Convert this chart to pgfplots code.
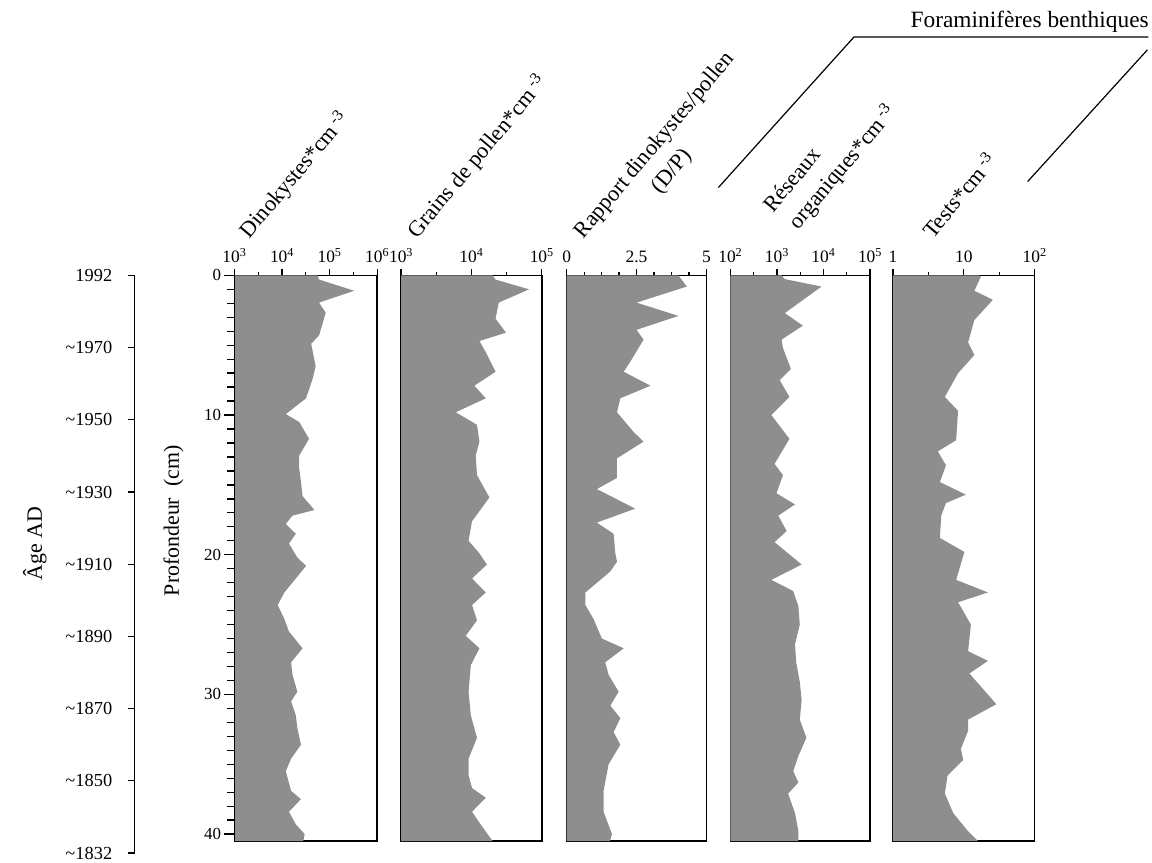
\documentclass[border=0pt]{standalone}
\usepackage{fontspec}
\setmainfont{Liberation Serif}
\usepackage{pgfplots}
\usepackage{pgfplotstable}
\pgfplotsset{compat=1.18}

\definecolor{stipple}{RGB}{142,142,142}
\newcommand{\sz}[1]{\fontsize{#1}{#1}\selectfont}
\newcommand{\cmm}{cm\,\textsuperscript{-3}}

% depth (cm) against concentration, one table per curve
\pgfplotstableread{
v d
1000 0
5.6e4 0
6.0e4 0.3
3.3e5 1.1
6.0e4 1.95
8.3e4 2.67
6.0e4 4.3
4.1e4 4.9
5.1e4 6.5
4.4e4 7.4
3.2e4 8.8
1.2e4 9.93
2.3e4 10.5
3.7e4 11.7
2.3e4 12.9
2.3e4 13.8
2.5e4 14.8
2.7e4 15.8
4.8e4 16.8
1.66e4 17.2
1.2e4 17.8
1.95e4 18.5
1.4e4 19.2
2.1e4 20.2
3.2e4 20.8
1.95e4 21.7
1.12e4 22.7
8.1e3 23.6
1.12e4 24.6
1.4e4 25.5
2.7e4 26.7
1.55e4 27.7
1.66e4 28.6
2.1e4 29.8
1.55e4 30.5
1.95e4 31.5
2.1e4 32.4
2.5e4 33.6
1.55e4 34.6
1.2e4 35.5
1.55e4 36.9
2.5e4 37.5
1.4e4 38.4
1.95e4 39.3
3.0e4 40.0
2.8e4 40.5
1000 40.5
}\dino

\pgfplotstableread{
v d
1000 0
2.0e4 0
2.2e4 0.3
6.6e4 1.0
2.45e4 1.95
2.2e4 3.1
3.1e4 4.1
1.3e4 4.7
1.6e4 5.5
2.2e4 6.9
1.1e4 7.9
1.6e4 8.8
6.0e3 9.8
1.2e4 10.7
1.3e4 11.9
1.15e4 12.9
1.2e4 14.3
1.8e4 15.9
1.02e4 17.6
9.1e3 19.0
1.3e4 19.9
1.66e4 20.7
1.02e4 21.7
1.6e4 22.7
1.02e4 23.6
1.2e4 24.7
8.3e3 25.8
1.3e4 26.7
9.8e3 27.9
9.1e3 29.8
9.8e3 31.5
1.2e4 33.1
9.1e3 34.6
9.1e3 35.8
1.02e4 36.7
1.6e4 37.4
1.02e4 38.4
1.35e4 39.3
2.0e4 40.5
1000 40.5
}\pollen

\pgfplotstableread{
v d
0 0
4.0 0
4.3 0.8
2.5 1.95
4.0 2.9
2.5 3.9
2.75 4.6
2.27 6.2
2.04 6.9
3.0 7.9
1.92 8.8
1.8 9.8
2.39 11.2
2.75 11.9
1.8 13.1
1.8 14.5
1.08 15.3
2.45 16.7
1.08 17.7
1.68 18.5
1.74 19.9
1.8 20.5
1.56 21.2
0.67 22.7
0.67 23.6
0.96 24.6
1.26 26.0
2.04 26.7
1.38 27.7
1.5 28.6
1.86 29.8
1.56 30.8
1.92 31.7
1.68 32.7
1.92 33.6
1.5 35.0
1.32 36.9
1.32 38.4
1.62 40.0
1.55 40.5
0 40.5
}\ratio

\pgfplotstableread{
v d
100 0
1.26e3 0
1.48e3 0.27
9.1e3 0.8
1.48e3 2.7
3.6e3 3.6
1.26e3 4.6
1.35e3 5.2
2.0e3 6.7
1.15e3 7.5
1.86e3 8.7
760 10.0
1.86e3 11.7
890 13.5
1.35e3 14.3
980 15.6
2.45e3 16.4
1.07e3 17.2
1.62e3 18.3
890 19.1
3.4e3 20.7
760 21.8
2.24e3 22.6
2.9e3 23.7
3.1e3 25.0
2.45e3 26.4
2.6e3 27.7
3.1e3 29.1
3.4e3 30.4
3.1e3 31.8
4.3e3 33.1
2.9e3 34.4
2.24e3 35.5
2.9e3 36.3
1.74e3 37.1
2.45e3 38.5
2.9e3 39.8
2.9e3 40.5
100 40.5
}\reseaux

\pgfplotstableread{
v d
1 0
16.6 0
17.4 0.1
14.1 1.1
25.7 1.75
14.1 3.2
11.5 4.8
14.1 5.7
8.3 7.0
5.4 8.7
8.3 9.7
7.8 11.8
4.3 12.6
5.6 13.6
4.6 14.8
10.7 15.7
5.6 16.3
4.8 17.2
4.6 18.8
10.2 19.8
7.8 21.8
21.9 22.7
8.3 23.4
12.6 25.0
11.5 26.9
21.9 27.6
12.0 28.5
28.8 30.7
11.5 31.8
11.5 32.6
9.1 33.9
9.8 34.7
5.9 35.8
5.4 37.1
7.1 38.5
11.5 39.8
15.8 40.5
1 40.5
}\tests

\pgfplotsset{
  panel/.style={
    scale only axis, height=567bp, anchor=north west,
    y dir=reverse, ymin=0, ymax=40.5, ytick=\empty,
    axis line style={line width=1.5bp},
    tick style={black, line width=1.2bp},
    tick align=outside, major tick length=6bp, minor tick length=3.5bp,
    xtick pos=upper, xticklabel pos=upper,
    xticklabel style={font=\sz{17.5}, inner sep=1.5bp, yshift=5bp},
  },
}

\begin{document}
\begin{tikzpicture}
\path (0bp,0bp) rectangle (1152bp,862bp);

% age scale
\begin{axis}[scale only axis, width=10bp, height=579bp, at={(135bp,586bp)}, anchor=north west,
  axis x line=none, axis y line*=left, axis line style={-, line width=1.5bp},
  xmin=0, xmax=1, ymin=0, ymax=8, y dir=reverse, ytick={0,1,2,3,4,5,6,7,8},
  yticklabels={1992,\textasciitilde1970,\textasciitilde1950,\textasciitilde1930,\textasciitilde1910,\textasciitilde1890,\textasciitilde1870,\textasciitilde1850,\textasciitilde1832},
  tick style={black, line width=1.2bp}, tick align=outside, major tick length=7bp,
  yticklabel style={font=\sz{18.5}, xshift=-12bp}]
\addplot[draw=none] coordinates {(0,0) (1,8)};
\end{axis}

% Dinokystes
\begin{axis}[panel, width=143bp, at={(235bp,586bp)}, xmode=log, xmin=1e3, xmax=1e6,
  xtick={1e3,1e4,1e5,1e6}, xticklabels={10\textsuperscript{3},10\textsuperscript{4},10\textsuperscript{5},10\textsuperscript{6}},
  minor xtick={3162.3,31623,316228}]
\addplot[fill=stipple, draw=none] table[x=v, y=d] {\dino};
\end{axis}
% depth scale
\begin{axis}[scale only axis, width=143bp, height=567bp, at={(235bp,586bp)}, anchor=north west,
  axis x line=none, axis y line*=left, axis line style={-, line width=1.5bp},
  xmin=0, xmax=1, ymin=0, ymax=40.5, y dir=reverse,
  ytick={0,10,20,30,40}, yticklabels={0,10,20,30,40},
  minor ytick={1,2,3,4,5,6,7,8,9,11,12,13,14,15,16,17,18,19,21,22,23,24,25,26,27,28,29,31,32,33,34,35,36,37,38,39},
  tick style={black, line width=1.3bp}, tick align=outside, major tick length=10bp, minor tick length=7bp,
  yticklabel style={font=\sz{17}}]
\addplot[draw=none] coordinates {(0,0) (1,40.5)};
\end{axis}

% Pollen
\begin{axis}[panel, width=141bp, at={(402bp,586bp)}, xmode=log, xmin=1e3, xmax=1e5,
  xtick={1e3,1e4,1e5}, xticklabels={10\textsuperscript{3},10\textsuperscript{4},10\textsuperscript{5}},
  minor xtick={3162.3,31623}]
\addplot[fill=stipple, draw=none] table[x=v, y=d] {\pollen};
\end{axis}

% D/P ratio
\begin{axis}[panel, width=140bp, at={(568bp,586bp)}, xmin=0, xmax=5,
  xtick={0,2.5,5}, xticklabels={0,2.5,5},
  minor xtick={0.625,1.25,1.875,3.125,3.75,4.375}]
\addplot[fill=stipple, draw=none] table[x=v, y=d] {\ratio};
\end{axis}

% Reseaux organiques
\begin{axis}[panel, width=140bp, at={(732bp,586bp)}, xmode=log, xmin=1e2, xmax=1e5,
  xtick={1e2,1e3,1e4,1e5}, xticklabels={10\textsuperscript{2},10\textsuperscript{3},10\textsuperscript{4},10\textsuperscript{5}},
  minor xtick={316.23,3162.3,31623}]
\addplot[fill=stipple, draw=none] table[x=v, y=d] {\reseaux};
\end{axis}

% Tests: decades drawn on a linear scale of log10(count)
\begin{axis}[panel, width=142bp, at={(895bp,586bp)}, xmin=0, xmax=2,
  xtick={0,1,2}, xticklabels={1,10,10\textsuperscript{2}},
  minor xtick={0.5,1.5}]
\addplot[fill=stipple, draw=none, x filter/.expression={log10(x)}] table[x=v, y=d] {\tests};
\end{axis}

% axis titles
\node[rotate=90, font=\sz{22}] at (35bp,317bp) {Âge AD};
\node[rotate=90, font=\sz{22}] at (174bp,340bp) {Profondeur\ \ (cm)};

% column headings
\begin{scope}[every node/.style={rotate=50, anchor=base west, inner sep=0pt, font=\sz{22.5}}]
\node at (250bp,622bp) {Dinokystes*\cmm};
\node at (418bp,622bp) {Grains de pollen*\cmm};
\node at (585bp,622bp) {Rapport dinokystes/pollen};
\node[anchor=center] at (674bp,690bp) {(D/P)};
\node at (775bp,648bp) {Réseaux};
\node at (800bp,631bp) {organiques*\cmm};
\node at (935bp,622bp) {Tests*\cmm};
\end{scope}

% bracket over the two foraminifera columns
\draw[line width=1.2bp] (720bp,674bp) -- (856bp,825bp) -- (1151bp,825bp);
\draw[line width=1.2bp] (1150bp,812bp) -- (1030bp,680bp);
\node[font=\sz{23.5}] at (1032bp,840bp) {Foraminifères benthiques};
\end{tikzpicture}
\end{document}
